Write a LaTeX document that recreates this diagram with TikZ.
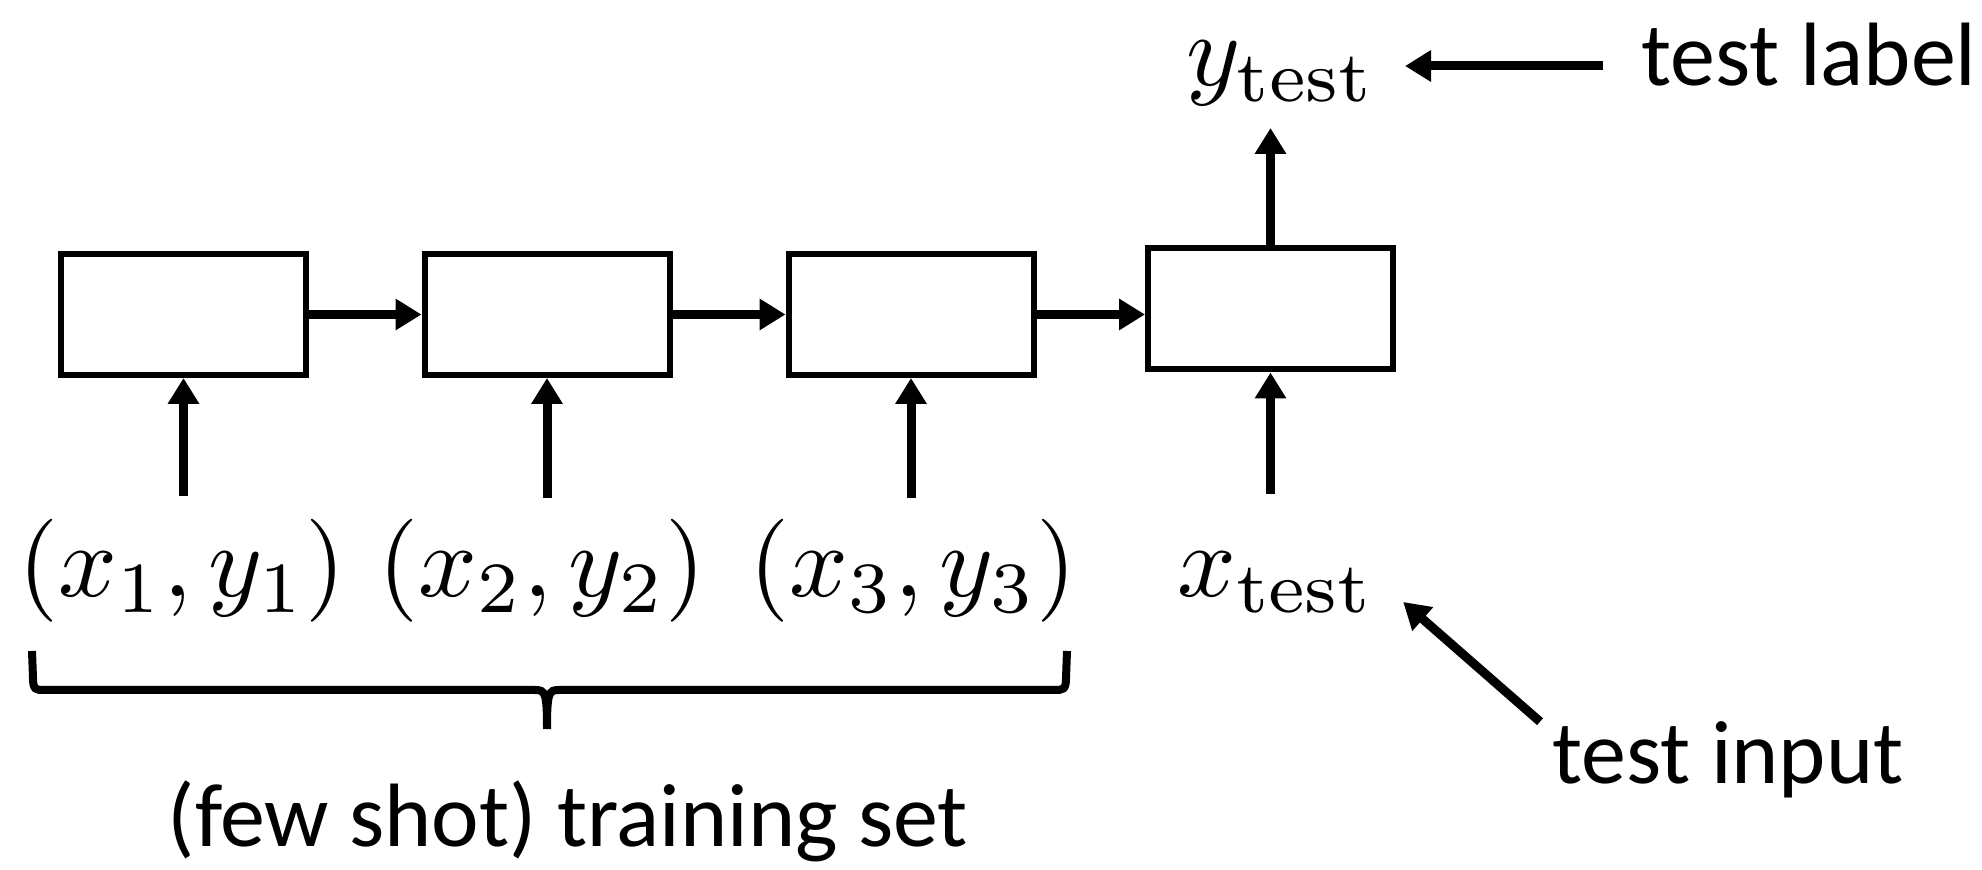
\documentclass[tikz,border=0pt]{standalone}
\usepackage{fontspec}
\newfontfamily\calib{Carlito}
\usetikzlibrary{arrows.meta}
\newcommand{\hugemath}[1]{\scalebox{5.15}{$#1$}}
\begin{document}
\begin{tikzpicture}[x=0.5pt,y=-0.5pt,
  box/.style={draw,line width=3pt,minimum width=122.5pt,minimum height=60.5pt,inner sep=0pt},
  arr/.style={line width=4.5pt,-{Triangle[length=13pt,width=15pt]}},
  mlab/.style={inner sep=0pt,anchor=base},
  slab/.style={inner sep=0pt,font=\calib\fontsize{45}{54}\selectfont,anchor=base},
  bracestyle/.style={line width=4pt}]
\useasboundingbox (0,0) rectangle (1982,870);
\node[box] (b1) at (183.5,314.5) {};
\node[box] (b2) at (547,314.5) {};
\node[box] (b3) at (911,314.5) {};
\node[box] (b4) at (1270.5,309) {};
\node[mlab] (l1) at (182,597) {\hugemath{(x_1,y_1)}};
\node[mlab] (l2) at (542,597) {\hugemath{(x_2,y_2)}};
\node[mlab] (l3) at (913,597) {\hugemath{(x_3,y_3)}};
\node[mlab] (xt) at (1276,597) {\hugemath{x_{\mathrm{test}}}};
\node[mlab] (yt) at (1281,86) {\hugemath{y_{\mathrm{test}}}};
\node[slab,anchor=base west] (tl) at (1641,86) {test label};
\node[slab,anchor=base west] (ti) at (1552,784) {test input};
\node[slab] (ts) at (568,847) {(few shot) training set};
% horizontal arrows
\draw[arr] (b1.east) -- (b2.west);
\draw[arr] (b2.east) -- (b3.west);
\draw[arr] (b3.east) -- (b3.east -| b4.west);
% vertical arrows
\draw[arr] (b1.south |- 0,496) -- (b1.south);
\draw[arr] (b2.south |- 0,498) -- (b2.south);
\draw[arr] (b3.south |- 0,498) -- (b3.south);
\draw[arr] (b4.south |- 0,494) -- (b4.south);
\draw[arr] (b4.north) -- (b4.north |- 0,128);
% annotation arrows
\draw[arr,shorten <=19pt,shorten >=14.5pt] (tl.west |- 0,66) -- (yt.east |- 0,66);
\draw[arr] ([xshift=-6pt]ti.north west) -- ([xshift=14pt,yshift=-2.5pt]xt.base east);
% brace
\draw[bracestyle] (32,651) -- (33,678) .. controls (33,690) and (36,690) .. (44,690)
  -- (535,690) .. controls (545,690) and (547,692) .. (547,729)
  .. controls (547,692) and (549,690) .. (559,690)
  -- (1054,690) .. controls (1063,690) and (1066,690) .. (1066,678) -- (1067,651);
\end{tikzpicture}
\end{document}
